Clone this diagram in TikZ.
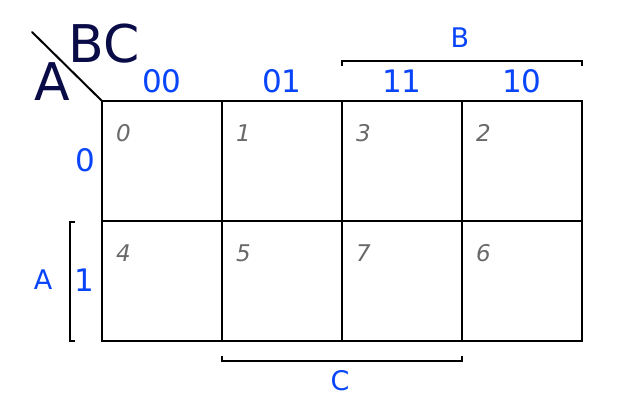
\documentclass[tikz,border=0pt]{standalone}
\usepackage{fontspec}
\setmainfont{DejaVu Sans}
\begin{document}
\begin{tikzpicture}[x=1pt,y=1pt,
  gridline/.style={draw=black,line width=2pt},
  bracketline/.style={draw=black,line width=2pt},
  varlabel/.style={text=labelBlue,inner sep=0pt,outer sep=0pt,font=\fontsize{27}{32}\selectfont},
  codelabel/.style={text=labelBlue,inner sep=0pt,outer sep=0pt,font=\fontsize{31}{37}\selectfont},
  titlelabel/.style={text=titleNavy,inner sep=0pt,outer sep=0pt,font=\fontsize{52}{60}\selectfont},
  cellnum/.style={text=numGray,anchor=base west,inner sep=0pt,outer sep=0pt,font=\fontsize{23}{27}\selectfont\itshape}]
\definecolor{labelBlue}{RGB}{8,68,250}
\definecolor{titleNavy}{RGB}{10,12,72}
\definecolor{numGray}{RGB}{105,105,105}
\path[use as bounding box,fill=white] (0,0) rectangle (635,417);

% corner
\coordinate (corner) at (102,316);
\coordinate (slashstart) at (32,385);
\path[gridline,line cap=round] (slashstart) -- (corner);
\node[titlelabel] (titleBC) at (104,373) {BC};
\node[titlelabel] (titleA) at (52,335) {A};

% grid
\path[gridline] (102,76) rectangle (582,316);
\path[gridline] (102,196) -- (582,196);
\foreach \xx in {222,342,462}
  \path[gridline] (\xx,76) -- (\xx,316);

% column and row codes
\foreach \code [count=\i from 0] in {00,01,11,10}
  \node[codelabel,anchor=base] (col\i) at (162+120*\i,324) {\code};
\node[codelabel,anchor=east] (row0) at (95,257) {0};
\node[codelabel,anchor=east] (row1) at (94,137) {1};

% cell indices
\foreach \num [count=\i from 0] in {0,1,3,2}
  \node[cellnum] (cell0\i) at (116+120*\i,275) {\num};
\foreach \num [count=\i from 0] in {4,5,7,6}
  \node[cellnum] (cell1\i) at (116+120*\i,155) {\num};

% brackets
\coordinate (bA1) at (70,195);
\coordinate (bA2) at (70,76);
\path[bracketline] ([xshift=5pt]bA1) -- (bA1) -- (bA2) -- ([xshift=5pt]bA2);
\node[varlabel] (varA) at (43,137) {A};

\coordinate (bB1) at (342,356);
\coordinate (bB2) at (582,356);
\path[bracketline] ([yshift=-5pt]bB1) -- (bB1) -- (bB2) -- ([yshift=-5pt]bB2);
\node[varlabel] (varB) at (460,379) {B};

\coordinate (bC1) at (222,56);
\coordinate (bC2) at (462,56);
\path[bracketline] ([yshift=5pt]bC1) -- (bC1) -- (bC2) -- ([yshift=5pt]bC2);
\node[varlabel] (varC) at (340,36) {C};
\end{tikzpicture}
\end{document}
